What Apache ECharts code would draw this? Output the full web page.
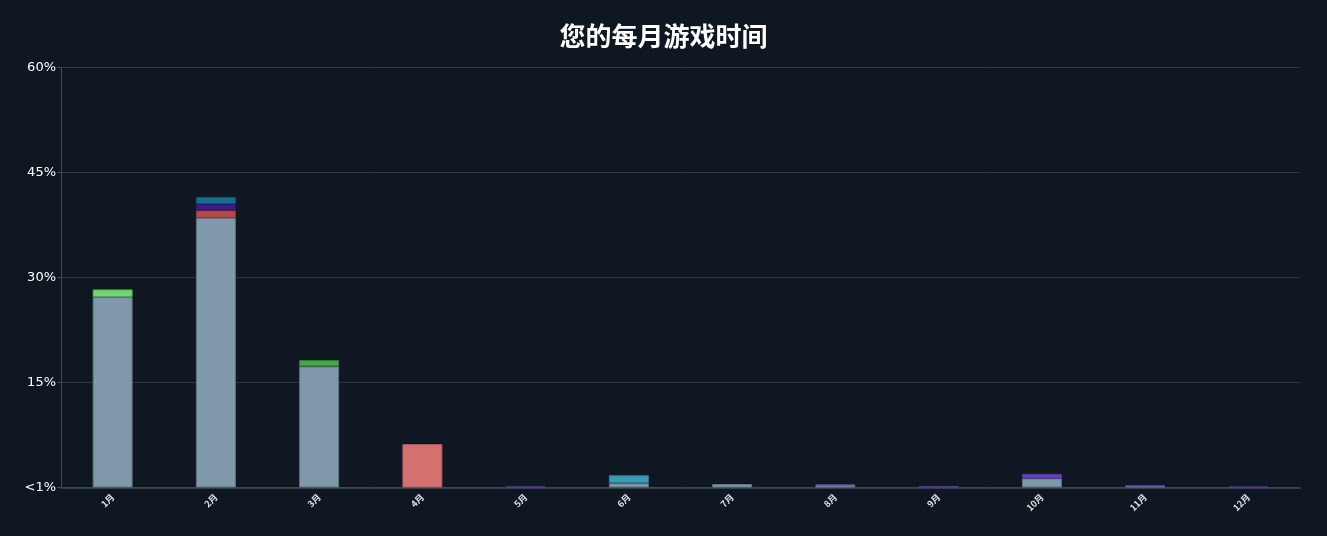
<!DOCTYPE html>
<html>
<head>
<meta charset="utf-8">
<script src="https://cdn.jsdelivr.net/npm/echarts@6/dist/echarts.min.js"></script>
<style>
  html, body { margin: 0; padding: 0; background: #0f1822; }
  #main { width: 1327px; height: 536px; }
</style>
</head>
<body>
<div id="main"></div>
<script>
// 月份
let months = ['1月', '2月', '3月', '4月', '5月', '6月', '7月', '8月', '9月', '10月', '11月', '12月']
// y轴刻度
let yTicks = [0, 15, 30, 45, 60]
// 每个游戏的每月占比 (%)
let gameGrey = [27.2, 38.5, 17.3, 0, 0, 0.6, 0.5, 0.35, 0, 1.3, 0.2, 0]
let gameLime = [1.1, 0, 0, 0, 0, 0, 0, 0, 0, 0, 0, 0]
let gameRed = [0, 1.1, 0, 0, 0, 0, 0, 0, 0, 0, 0, 0]
let gameIndigo = [0, 0.9, 0, 0, 0, 0, 0, 0, 0, 0, 0, 0]
let gameTeal = [0, 1.0, 0, 0, 0, 0, 0, 0, 0, 0, 0, 0]
let gameGreen = [0, 0, 0.9, 0, 0, 0, 0, 0, 0, 0, 0, 0]
let gameSalmon = [0, 0, 0, 6.2, 0, 0, 0, 0, 0, 0, 0, 0]
let gameCyan = [0, 0, 0, 0, 0, 1.15, 0, 0, 0, 0, 0, 0]
let gamePurple = [0, 0, 0, 0, 0.15, 0, 0, 0.15, 0.2, 0.65, 0.15, 0.12]

let seriesList = [
  { name: 'A', data: gameGrey, color: '#7f99ab', border: '#5d7282' },
  { name: 'B', data: gameLime, color: '#6fd86f', border: '#4fa84f' },
  { name: 'C', data: gameRed, color: '#b04a4a', border: '#8a3838' },
  { name: 'D', data: gameIndigo, color: '#3f1a8e', border: '#2e136a' },
  { name: 'E', data: gameTeal, color: '#136f8c', border: '#0f566c' },
  { name: 'F', data: gameGreen, color: '#45a845', border: '#358235' },
  { name: 'G', data: gameSalmon, color: '#d57070', border: '#b05a5a' },
  { name: 'H', data: gameCyan, color: '#3a9bb6', border: '#2d7a90' },
  { name: 'I', data: gamePurple, color: '#6a3fc0', border: '#5a35a8' }
]

let myChart = echarts.init(document.getElementById('main'))
let option = {
  backgroundColor: '#0f1822',
  title: {
    text: '您的每月游戏时间',
    left: 'center',
    top: 18,
    textStyle: {
      color: '#ffffff',
      fontSize: 26,
      fontWeight: 'bold',
      fontFamily: 'Noto Sans CJK SC'
    }
  },
  grid: {
    left: 61,
    right: 27,
    top: 67.5,
    bottom: 48.5
  },
  xAxis: {
    type: 'category',
    data: months,
    axisLine: {
      lineStyle: { color: '#434b54', width: 1.5 }
    },
    axisTick: {
      alignWithLabel: true,
      lineStyle: { color: '#434b54' }
    },
    axisLabel: {
      rotate: 45,
      color: '#e0e0e0',
      fontSize: 9,
      fontWeight: 'bold',
      margin: 8,
      fontFamily: 'Noto Sans CJK SC'
    }
  },
  yAxis: {
    type: 'value',
    min: yTicks[0],
    max: yTicks[yTicks.length - 1],
    interval: 15,
    axisLine: {
      show: true,
      lineStyle: { color: '#434b54' }
    },
    axisTick: {
      show: true,
      length: 4,
      lineStyle: { color: '#434b54' }
    },
    splitLine: {
      lineStyle: { color: '#2c3540', width: 1 }
    },
    axisLabel: {
      color: '#ffffff',
      fontSize: 13,
      margin: 5,
      fontFamily: 'DejaVu Sans',
      formatter: function (value) {
        return value == 0 ? '<1%' : value + '%'
      }
    }
  },
  series: seriesList.map(function (s) {
    return {
      name: s.name,
      type: 'bar',
      stack: 'total',
      barWidth: 40,
      // 0 的段不画，免得边框叠出细线
      data: s.data.map(function (v) { return v > 0 ? v : null }),
      itemStyle: {
        color: s.color,
        borderColor: s.border,
        borderWidth: 1
      }
    }
  })
}
myChart.setOption(option)
</script>
</body>
</html>
